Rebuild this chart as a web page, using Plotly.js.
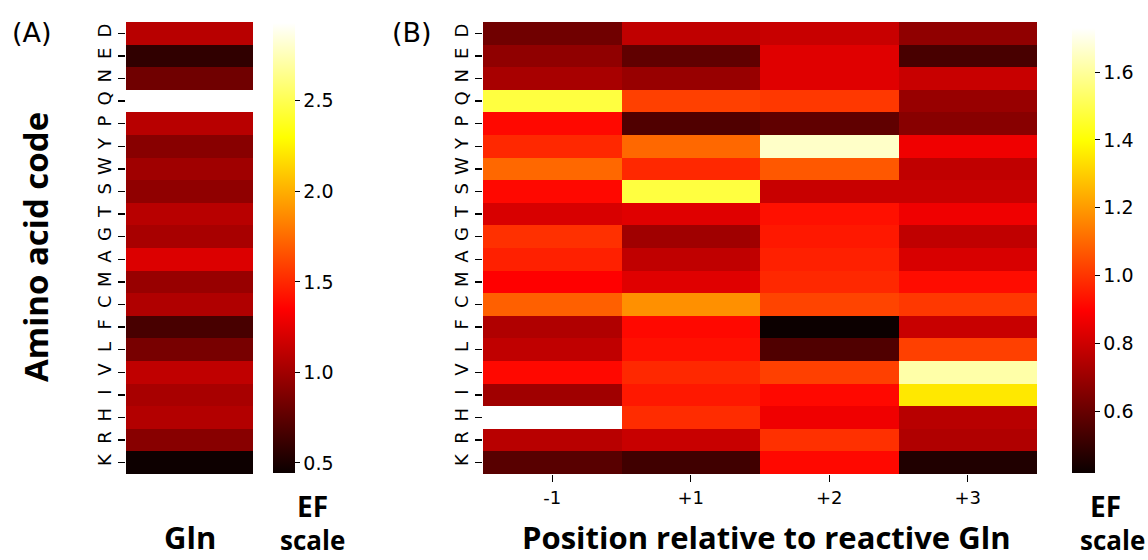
<!DOCTYPE html>
<html><head><meta charset="utf-8">
<script src="https://cdn.plot.ly/plotly-3.0.1.min.js"></script>
<style>html,body{margin:0;padding:0;background:#fff}#chart{width:1148px;height:560px}</style>
</head><body><div id="chart"></div>
<script>
// Amino acids, top to bottom
const aminoAcids = ['D','E','N','Q','P','Y','W','S','T','G','A','M','C','F','L','V','I','H','R','K'];
// Panel A: EF at the reactive Gln
const glnEF = [1.088,0.583,0.821,null,1.088,0.910,0.999,0.939,1.088,1.028,1.22,0.969,1.058,0.672,0.850,1.118,1.028,1.07,0.910,0.45];
// Panel B: EF by position relative to reactive Gln
const positions = ['-1','+1','+2','+3'];
const posMinus1 = [0.617,0.679,0.726,1.480,0.913,0.975,1.101,0.913,0.821,0.991,0.960,0.897,1.085,0.742,0.774,0.913,0.711,null,0.758,0.570];
const posPlus1  = [0.774,0.585,0.695,1.022,0.554,1.101,0.975,1.480,0.836,0.711,0.774,0.836,1.179,0.913,0.929,0.975,0.944,0.983,0.789,0.523];
const posPlus2  = [0.789,0.836,0.836,1.007,0.585,1.658,1.070,0.789,0.929,0.944,0.960,0.975,1.030,0.420,0.554,1.022,0.913,0.868,0.991,0.913];
const posPlus3  = [0.679,0.538,0.789,0.695,0.664,0.868,0.774,0.789,0.868,0.774,0.821,0.921,1.007,0.789,1.022,1.616,1.352,0.758,0.742,0.460];
const rangeA = [0.444, 2.93];
const rangeB = [0.418, 1.73];
const ticksA = [0.5,1.0,1.5,2.0,2.5];
const ticksB = [0.6,0.8,1.0,1.2,1.4,1.6];

const hot = [[0,'rgb(11,0,0)'],[0.365079,'rgb(255,0,0)'],[0.746032,'rgb(255,255,0)'],[1,'rgb(255,255,255)']];
const W = 1148, H = 560;
const px = v => v / W, py = v => 1 - v / H;

const zA = glnEF.map(v => [v]);
const zB = aminoAcids.map((a, i) => [posMinus1[i], posPlus1[i], posPlus2[i], posPlus3[i]]);

const tickFont = {family: 'DejaVu Sans', size: 18, color: '#000'};
const cbCommon = {thickness: 22, thicknessmode: 'pixels', lenmode: 'fraction', outlinewidth: 0,
  ticks: 'outside', ticklen: 5, tickcolor: '#000', tickfont: {family: 'DejaVu Sans', size: 19, color: '#000'},
  xanchor: 'left', yanchor: 'middle', xpad: 0, ypad: 0, tickformat: '.1f', tickmode: 'array'};

const traces = [
  {type: 'heatmap', z: zA, x: ['Gln'], y: aminoAcids, xaxis: 'x', yaxis: 'y',
   colorscale: hot, zmin: rangeA[0], zmax: rangeA[1], hoverongaps: false,
   colorbar: Object.assign({}, cbCommon, {x: px(273), len: 450 / H, y: py(248), tickvals: ticksA})},
  {type: 'heatmap', z: zB, x: positions, y: aminoAcids, xaxis: 'x2', yaxis: 'y2',
   colorscale: hot, zmin: rangeB[0], zmax: rangeB[1], hoverongaps: false,
   colorbar: Object.assign({}, cbCommon, {x: px(1072), len: 445 / H, y: py(250.5), thickness: 23, tickvals: ticksB})}
];

const yCommon = {autorange: 'reversed', type: 'category', tickangle: -90, ticks: 'outside', ticklen: 7,
  tickcolor: '#000', tickwidth: 1.3, tickfont: tickFont, showgrid: false, zeroline: false, showline: false};

const titleFont = {family: 'Open Sans', size: 31, color: '#000', weight: 'bold'};
const ann = (text, x, y, size, extra) => Object.assign({text, x: px(x), y: py(y), xref: 'paper', yref: 'paper',
  showarrow: false, xanchor: 'center', yanchor: 'middle', font: Object.assign({}, titleFont, {size})}, extra || {});

const layout = {
  width: W, height: H, margin: {l: 0, r: 0, t: 0, b: 0},
  paper_bgcolor: '#fff', plot_bgcolor: '#fff', showlegend: false,
  xaxis: {domain: [px(126), px(253)], anchor: 'y', showticklabels: false, ticks: '', showgrid: false, zeroline: false},
  yaxis: Object.assign({}, yCommon, {domain: [py(474), py(22)], anchor: 'x'}),
  xaxis2: {domain: [px(483), px(1037)], anchor: 'y2', type: 'category', ticks: 'outside', ticklen: 7, tickcolor: '#000',
    tickwidth: 1.3, tickfont: {family: 'DejaVu Sans', size: 18, color: '#000'}, showgrid: false, zeroline: false},
  yaxis2: Object.assign({}, yCommon, {domain: [py(474), py(22)], anchor: 'x2'}),
  annotations: [
    ann('(A)', 32, 32, 27, {font: {family: 'DejaVu Sans', size: 27, color: '#000'}}),
    ann('(B)', 412, 32, 27, {font: {family: 'DejaVu Sans', size: 27, color: '#000'}}),
    ann('<b>Amino acid code</b>', 35, 247, 33, {textangle: -90}),
    Object.assign(ann('<b>Gln</b>', 190, 560, 31), {yanchor: 'bottom'}),
    Object.assign(ann('<b>Position relative to reactive Gln</b>', 766, 560, 31), {yanchor: 'bottom'}),
    ann('<b>EF</b>', 312, 506, 28),
    Object.assign(ann('<b>scale</b>', 312, 560, 26), {yanchor: 'bottom'}),
    ann('<b>EF</b>', 1105, 506, 28),
    Object.assign(ann('<b>scale</b>', 1147, 560, 26), {yanchor: 'bottom', xanchor: 'right'})
  ]
};

Plotly.newPlot('chart', traces, layout, {staticPlot: true, displayModeBar: false});
</script>
</body></html>
